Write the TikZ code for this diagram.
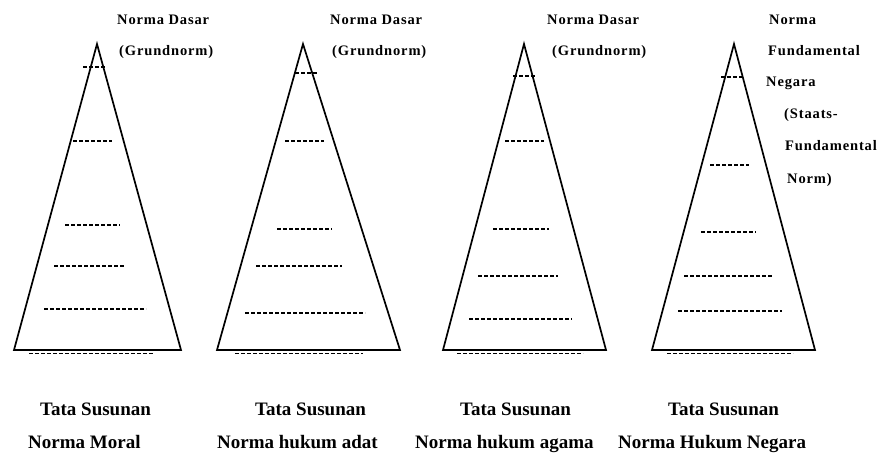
\documentclass[tikz,border=0pt]{standalone}
\usepackage{fontspec}
\setmainfont{Liberation Serif}
\newfontfamily\spacedfont[LetterSpace=6]{Liberation Serif}
\begin{document}
\begin{tikzpicture}[x=1pt,y=-1pt,
 tri/.style={line width=1.7pt, line join=miter},
 lvl/.style={line width=1.2pt, dash pattern=on 4pt off 2pt},
 toplbl/.style={anchor=base west, inner sep=0pt, font=\spacedfont\bfseries\fontsize{14.5}{15}\selectfont},
 botlbl/.style={anchor=base west, inner sep=0pt, font=\bfseries\fontsize{19}{20}\selectfont}]
\useasboundingbox (0,0) rectangle (881,454);
\fill[white] (0,0) rectangle (881,454);
% triangles
\draw[tri] (97,44) -- (181,350) -- (14,350) -- cycle;
\draw[tri] (303,44) -- (400,350) -- (217,350) -- cycle;
\draw[tri] (524,44) -- (606,350) -- (443,350) -- cycle;
\draw[tri] (734,44) -- (815,350) -- (652,350) -- cycle;
% levels, pyramid 1
\draw[lvl] (83,67) -- (106,67);
\draw[lvl] (73,141) -- (112,141);
\draw[lvl] (65,225) -- (120,225);
\draw[lvl] (54,266) -- (125,266);
\draw[lvl] (44,309) -- (146,309);
\draw[lvl] (29,353.5) -- (154,353.5);
% pyramid 2
\draw[lvl] (295,73) -- (317,73);
\draw[lvl] (285,141) -- (324,141);
\draw[lvl] (277,229) -- (332,229);
\draw[lvl] (256,266) -- (342,266);
\draw[lvl] (245,313) -- (365,313);
\draw[lvl] (235,353.5) -- (363,353.5);
% pyramid 3
\draw[lvl] (513,76) -- (535,76);
\draw[lvl] (505,141) -- (544,141);
\draw[lvl] (493,229) -- (549,229);
\draw[lvl] (478,276) -- (558,276);
\draw[lvl] (469,319) -- (572,319);
\draw[lvl] (457,353.5) -- (583,353.5);
% pyramid 4
\draw[lvl] (721,77) -- (742,77);
\draw[lvl] (710,165) -- (749,165);
\draw[lvl] (701,232) -- (756,232);
\draw[lvl] (684,276) -- (772,276);
\draw[lvl] (678,311) -- (782,311);
\draw[lvl] (667,353.5) -- (793,353.5);
% top labels
\node[toplbl] (a1) at (117,25) {Norma Dasar};
\node[toplbl] (a2) at (119,56) {(Grundnorm)};
\node[toplbl] (b1) at (330,25) {Norma Dasar};
\node[toplbl] (b2) at (332,56) {(Grundnorm)};
\node[toplbl] (c1) at (547,25) {Norma Dasar};
\node[toplbl] (c2) at (552,56) {(Grundnorm)};
\node[toplbl] (d1) at (769,25) {Norma};
\node[toplbl] (d2) at (768,56) {Fundamental};
\node[toplbl] (d3) at (766,87) {Negara};
\node[toplbl] (d4) at (784,119) {(Staats-};
\node[toplbl] (d5) at (785,151) {Fundamental};
\node[toplbl] (d6) at (787,184) {Norm)};
% bottom labels
\node[botlbl] (e1) at (40,415) {Tata Susunan};
\node[botlbl] (e2) at (28,448) {Norma Moral};
\node[botlbl] (f1) at (255,415) {Tata Susunan};
\node[botlbl] (f2) at (217,448) {Norma hukum adat};
\node[botlbl] (g1) at (460,415) {Tata Susunan};
\node[botlbl] (g2) at (415,448) {Norma hukum agama};
\node[botlbl] (h1) at (668,415) {Tata Susunan};
\node[botlbl] (h2) at (618,448) {Norma Hukum Negara};
\end{tikzpicture}
\end{document}
